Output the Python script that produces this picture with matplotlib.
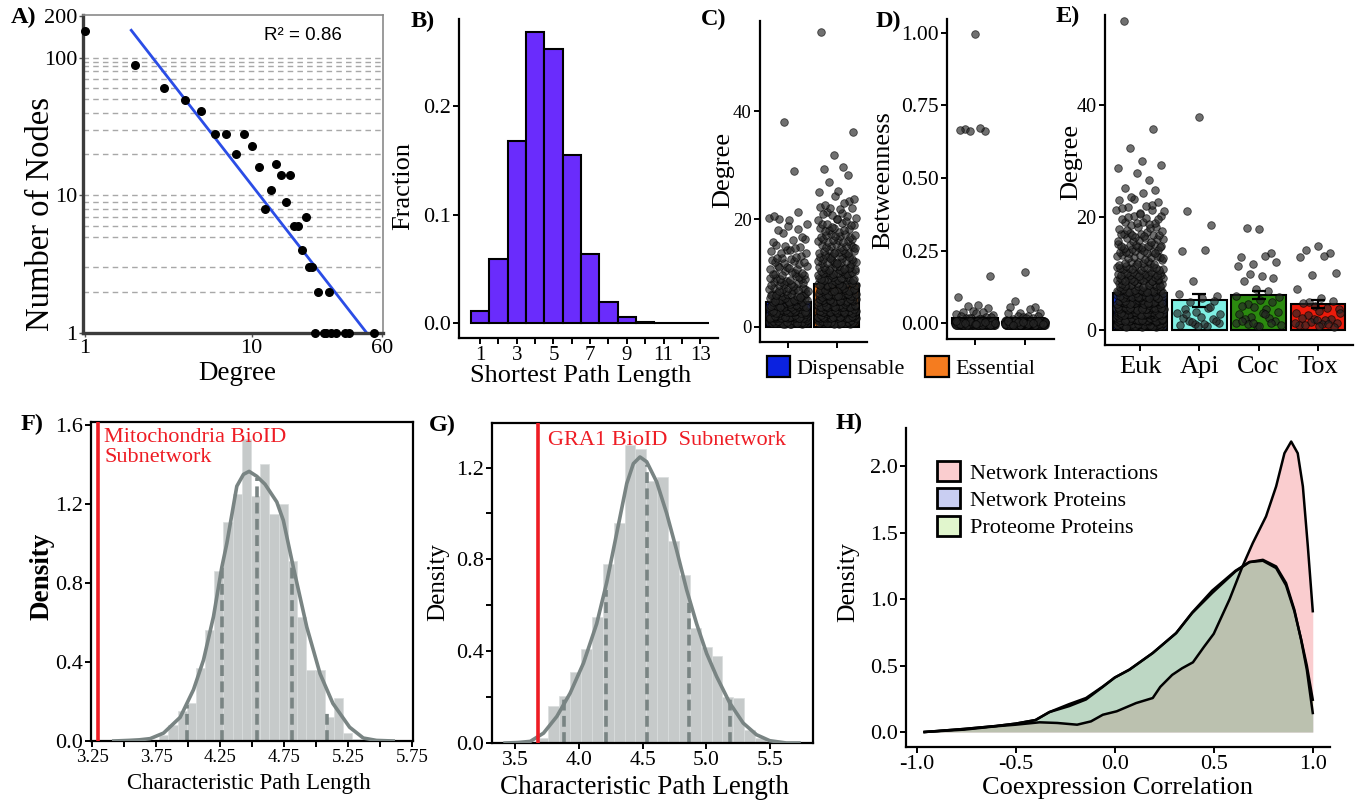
import numpy as np
import matplotlib
matplotlib.use("Agg")
import matplotlib.pyplot as plt
from matplotlib.patches import Patch

plt.rcParams['font.family'] = ['Liberation Serif', 'DejaVu Serif']
plt.rcParams['axes.unicode_minus'] = False

W, H = 1358, 805

# ---------------- data ----------------
# A) degree distribution
a_degree = [1, 2, 3, 4, 5, 6, 7, 8, 9, 10, 11, 12, 13, 14, 15, 16, 17, 18, 19, 20,
            21, 22, 23, 25, 29, 24, 27, 28, 30, 32, 36, 38, 54]
a_nodes = [157, 88, 60, 49, 41, 28, 28, 20, 28, 23, 16, 8, 11, 17, 14, 9, 14, 6, 6, 4,
           7, 3, 3, 2, 2, 1, 1, 1, 1, 1, 1, 1, 1]
a_fit_slope = -1.56
a_fit_icpt = 2.635
a_fit_span = [1.9, 49]
a_r2 = 0.86
a_grid = [2, 3, 5, 6, 7, 8, 9, 10, 20, 30, 40, 50, 60, 70, 80, 87, 93, 100]

# B) shortest path length
b_len = [1, 2, 3, 4, 5, 6, 7, 8, 9, 10, 11, 12, 13]
b_frac = [0.0116, 0.0595, 0.1674, 0.268, 0.252, 0.1545, 0.0639, 0.0196, 0.0061,
          0.0015, 0.0004, 0.0002, 0.0002]

# C) degree, dispensable vs essential
c_groups = ['Dispensable', 'Essential']
c_mean = [4.64, 7.92]
disp_deg = [1, 2, 3, 4, 5, 6, 7, 8, 9, 10, 11, 12, 13, 14, 15, 16, 17, 18, 19, 20, 21, 29, 38]
disp_cnt = [95, 55, 35, 25, 20, 14, 12, 10, 9, 8, 7, 6, 5, 5, 4, 3, 2, 2, 2, 3, 2, 1, 1]
ess_deg = [1, 2, 3, 4, 5, 6, 7, 8, 9, 10, 11, 12, 13, 14, 15, 16, 17, 18, 19, 20, 21, 22,
           23, 24, 25, 27, 28, 29, 30, 32, 36, 55]
ess_cnt = [60, 45, 38, 32, 28, 24, 20, 18, 16, 15, 13, 12, 11, 10, 9, 8, 8, 7, 6, 5, 5, 4,
           3, 2, 2, 1, 1, 1, 1, 1, 1, 1]

# D) betweenness
d_mean = [0.019, 0.005]
disp_btw = [1.0, 0.667, 0.667, 0.667, 0.667, 0.667, 0.16, 0.085, 0.07, 0.06, 0.05, 0.045,
            0.04, 0.035, 0.03, 0.03, 0.028, 0.025, 0.022, 0.02, 0.02, 0.018, 0.015, 0.015,
            0.012, 0.01, 0.01, 0.01, 0.008, 0.005, 0.005]
disp_btw_zeros = 290
ess_btw = [0.18, 0.075, 0.06, 0.055, 0.045, 0.04, 0.035, 0.03, 0.03, 0.025, 0.022, 0.02,
           0.018, 0.015, 0.012, 0.01, 0.01, 0.008, 0.005]
ess_btw_zeros = 380

# E) degree by lineage
e_groups = ['Euk', 'Api', 'Coc', 'Tox']
e_mean = [6.6, 5.3, 6.2, 4.6]
e_err = [0.3, 1.13, 0.65, 0.7]
euk_deg = [1, 2, 3, 4, 5, 6, 7, 8, 9, 10, 11, 12, 13, 14, 15, 16, 17, 18, 19, 20, 21, 22,
           23, 24, 25, 27, 28, 29, 30, 32, 36, 55]
euk_cnt = [110, 70, 52, 42, 35, 25, 24, 18, 20, 18, 14, 10, 10, 12, 12, 8, 10, 6, 6, 6, 5, 4,
           3, 2, 2, 1, 1, 2, 1, 1, 1, 1]
api_deg = [38, 21, 19, 14, 14, 9, 6, 6, 6, 5, 5, 4, 4, 3, 3, 3, 2, 2, 2, 2, 1, 1, 1, 1, 1,
           1, 2, 3, 4, 1]
coc_deg = [18, 18, 14, 13, 13, 12, 12, 11, 10, 10, 9, 9, 7, 7, 6, 6, 5, 5, 5, 4, 4, 4, 3, 3,
           3, 2, 2, 2, 2, 1, 1, 1, 1, 1, 1, 2, 3, 1]
tox_deg = [15, 14, 14, 13, 13, 10, 10, 7, 6, 5, 5, 5, 4, 4, 4, 3, 3, 3, 2, 2, 2, 2, 1, 1, 1,
           1, 1, 1, 1, 2, 3, 1, 1]

# F) mitochondria BioID, random subnetworks
f_bin_start = 3.774
f_bin_width = 0.0717
f_density = [0.03, 0.08, 0.15, 0.19, 0.37, 0.56, 0.86, 1.11, 1.25, 1.53, 1.24, 1.40, 1.15,
             1.20, 0.91, 0.63, 0.36, 0.36, 0.12, 0.22, 0.04, 0.01]
f_kde_x = [3.42, 3.535, 3.62, 3.704, 3.808, 3.938, 4.042, 4.12, 4.198, 4.263, 4.302, 4.38,
           4.432, 4.476, 4.536, 4.60, 4.692, 4.743, 4.821, 4.926, 5.03, 5.13, 5.26, 5.367,
           5.47, 5.60]
f_kde_y = [0.0, 0.003, 0.006, 0.012, 0.04, 0.12, 0.26, 0.41, 0.63, 0.88, 1.0, 1.29,
           1.35, 1.365, 1.34, 1.30, 1.21, 1.117, 0.88, 0.577, 0.34, 0.19, 0.07, 0.015,
           0.003, 0.0]
f_sd_x = [3.995, 4.268, 4.538, 4.813, 5.086]
f_sd_h = [0.18, 0.88, 1.33, 0.90, 0.155]
f_observed = 3.30

# G) GRA1 BioID, random subnetworks
g_bin_start = 3.675
g_bin_width = 0.0855
g_density = [0.022, 0.162, 0.206, 0.31, 0.41, 0.55, 0.78, 0.96, 1.30, 1.28, 1.14, 1.16,
             0.88, 0.73, 0.50, 0.42, 0.38, 0.20, 0.196, 0.055, 0.022]
g_kde_x = [3.42, 3.52, 3.618, 3.722, 3.827, 3.931, 4.036, 4.14, 4.219, 4.297, 4.376, 4.428,
           4.48, 4.533, 4.611, 4.69, 4.768, 4.847, 4.925, 5.004, 5.082, 5.186, 5.291, 5.396,
           5.5, 5.631, 5.73]
g_kde_y = [0.0, 0.002, 0.007, 0.043, 0.116, 0.217, 0.348, 0.52, 0.70, 0.913, 1.13, 1.217,
           1.246, 1.225, 1.138, 1.0, 0.84, 0.667, 0.52, 0.39, 0.29, 0.174, 0.087, 0.036,
           0.01, 0.0, 0.0]
g_sd_x = [3.884, 4.211, 4.538, 4.862, 5.189]
g_sd_h = [0.19, 0.667, 1.21, 0.61, 0.19]
g_observed = 3.675

# H) coexpression correlation densities
h_int_x = [-0.96, -0.76, -0.6, -0.5, -0.38, -0.29, -0.19, -0.12, -0.06, 0.01, 0.108, 0.192,
           0.23, 0.29, 0.34, 0.395, 0.45, 0.5, 0.58, 0.645, 0.697, 0.764, 0.815, 0.857,
           0.891, 0.924, 0.95, 0.975, 1.0]
h_int_y = [0.0, 0.018, 0.043, 0.055, 0.073, 0.068, 0.055, 0.08, 0.13, 0.156, 0.218, 0.256,
           0.34, 0.43, 0.48, 0.525, 0.64, 0.74, 1.0, 1.247, 1.423, 1.624, 1.85, 2.1,
           2.188, 2.1, 1.85, 1.40, 0.91]
h_prot_x = [-0.96, -0.76, -0.6, -0.5, -0.4, -0.33, -0.23, -0.145, -0.06, 0.0, 0.074, 0.192,
            0.31, 0.391, 0.492, 0.61, 0.68, 0.748, 0.815, 0.865, 0.907, 0.941, 0.97, 1.0]
h_prot_y = [0.0, 0.023, 0.045, 0.063, 0.09, 0.15, 0.21, 0.256, 0.343, 0.41, 0.469, 0.595,
            0.745, 0.896, 1.047, 1.21, 1.28, 1.297, 1.247, 1.122, 0.921, 0.695, 0.469, 0.143]
h_prote_y = [0.0, 0.023, 0.045, 0.063, 0.09, 0.15, 0.195, 0.245, 0.34, 0.41, 0.47, 0.595,
             0.745, 0.9, 1.065, 1.215, 1.28, 1.29, 1.235, 1.105, 0.91, 0.70, 0.50, 0.243]
h_labels = ['Network Interactions', 'Network Proteins', 'Proteome Proteins']

# ---------------- helpers ----------------
fig = plt.figure(figsize=(W / 100, H / 100), dpi=100)


def px_axes(left, top, right, bottom):
    return fig.add_axes([left / W, 1 - bottom / H, (right - left) / W, (bottom - top) / H])


def classic(ax, lsize=16):
    for s in ['top', 'right']:
        ax.spines[s].set_visible(False)
    for s in ['left', 'bottom']:
        ax.spines[s].set_linewidth(1.6)
    ax.tick_params(direction='out', length=4, width=1.4, labelsize=lsize, pad=2)


def boxed(ax, lsize=16):
    for s in ax.spines.values():
        s.set_linewidth(1.6)
    ax.tick_params(direction='out', length=4, width=1.4, labelsize=lsize, pad=2)


def ylab(ax, text, x, y, size, **kw):
    ax.set_ylabel(text, fontsize=size, **kw)
    ax.yaxis.set_label_coords(x / W, 1 - y / H, transform=fig.transFigure)
    ax.yaxis.label.set_va('center')


def xlab(ax, text, x, y, size, **kw):
    ax.set_xlabel(text, fontsize=size, **kw)
    ax.xaxis.set_label_coords(x / W, 1 - y / H, transform=fig.transFigure)
    ax.xaxis.label.set_va('center')


def panel(text, x, y):
    fig.text(x / W, 1 - y / H, text, fontsize=17.5, fontweight='bold', ha='left', va='center')


def halton(n, base):
    # deterministic, evenly spread offsets in [-0.5, 0.5)
    out = np.zeros(n)
    for k in range(n):
        f, r, i = 1.0, 0.0, k + 1
        while i > 0:
            f /= base
            r += f * (i % base)
            i //= base
        out[k] = r
    return out - 0.5


def dots(ax, center, values, yjit=0.8, width=0.8):
    values = np.asarray(values, dtype=float)
    jx, jy = halton(len(values), 2), halton(len(values), 3)
    ax.scatter(center + width * jx, values + yjit * jy, s=30, c='#262626', alpha=0.66,
               edgecolors='black', linewidths=0.6, zorder=3, clip_on=False)


# ---------------- A ----------------
axA = px_axes(83, 15, 383, 333)
axA.set_xscale('log')
axA.set_yscale('log')
axA.set_xlim(0.977, 61.1)
axA.set_ylim(1, 204.7)
for g in a_grid:
    axA.axhline(g, color='#a8a8a8', lw=1.0, ls=(0, (4, 3)), zorder=0)
axA.scatter(a_degree, a_nodes, s=30, color='black', zorder=3, clip_on=False)
fx = np.array(a_fit_span)
axA.plot(fx, 10 ** (a_fit_icpt + a_fit_slope * np.log10(fx)), color='#2b4de6', lw=2, zorder=2)
axA.text(0.732, 0.937, 'R\u00b2 = %.2f' % a_r2, transform=axA.transAxes, ha='center',
         va='center', fontsize=13.5, family='Liberation Sans')
axA.set_xticks([1, 10, 60])
axA.set_xticklabels(['1', '10', '60'])
axA.set_yticks([1, 10, 100, 200])
axA.set_yticklabels(['1', '10', '100', '200'])
axA.minorticks_off()
for s in ['top', 'right']:
    axA.spines[s].set_color('#8a8a8a')
    axA.spines[s].set_linewidth(1.2)
for s in ['left', 'bottom']:
    axA.spines[s].set_color('#3c3c3c')
    axA.spines[s].set_linewidth(2.4)
axA.tick_params(direction='out', length=3, width=1, colors='#555555', labelcolor='black',
                labelsize=16, pad=1)
ylab(axA, 'Number of Nodes', 41, 214, 23.5)
xlab(axA, 'Degree', 237, 373, 19.5)
panel('A)', 11, 17)

# ---------------- B ----------------
axB = px_axes(459, 19, 718, 338)
classic(axB)
axB.bar(b_len, b_frac, width=1.0, color='#6a2cfc', edgecolor='black', linewidth=1.5)
axB.set_xlim(-0.15, 13.97)
axB.set_ylim(-0.0135, 0.280)
axB.set_xticks([1, 3, 5, 7, 9, 11, 13])
axB.set_xticks([2, 4, 6, 8, 10, 12], minor=True)
axB.tick_params(which='minor', direction='out', length=4, width=1.4)
axB.tick_params(axis='x', labelsize=15)
axB.set_yticks([0.0, 0.1, 0.2])
axB.set_yticklabels(['0.0', '0.1', '0.2'])
ylab(axB, 'Fraction', 403, 186, 19)
xlab(axB, 'Shortest Path Length', 581, 376, 19)
panel('B)', 411, 21)

# ---------------- C ----------------
c_colors = ['#0b22e0', '#f57c1f']
axC = px_axes(760, 21, 867, 342)
classic(axC, 13.5)
axC.bar([1, 2], c_mean, width=0.93, color=c_colors, edgecolor='black', linewidth=1.5, zorder=2)
dots(axC, 1, np.repeat(disp_deg, disp_cnt))
dots(axC, 2, np.repeat(ess_deg, ess_cnt))
axC.set_xlim(0.415, 2.62)
axC.set_ylim(-2.8, 56.8)
axC.set_xticks([1, 2])
axC.set_xticklabels([])
axC.set_yticks([0, 20, 40])
ylab(axC, 'Degree', 723, 170, 19)
panel('C)', 701, 19)

# ---------------- D ----------------
axD = px_axes(947, 19, 1054, 339)
classic(axD, 15.5)
axD.bar([1, 2], d_mean, width=0.91, color=c_colors, edgecolor='black', linewidth=1.5, zorder=2)
dots(axD, 1, list(disp_btw) + [0.0] * disp_btw_zeros, yjit=0.016)
dots(axD, 2, list(ess_btw) + [0.0] * ess_btw_zeros, yjit=0.016)
axD.set_xlim(0.437, 2.58)
axD.set_ylim(-0.055, 1.048)
axD.set_xticks([1, 2])
axD.set_xticklabels([])
axD.set_yticks([0, 0.25, 0.5, 0.75, 1.0])
axD.set_yticklabels(['0.00', '0.25', '0.50', '0.75', '1.00'])
ylab(axD, 'Betweenness', 883, 180, 19)
panel('D)', 876, 21)

fig.legend([Patch(facecolor=c, edgecolor='black', linewidth=1.6) for c in c_colors], c_groups,
           loc='center', bbox_to_anchor=(901 / W, 1 - 367.5 / H), ncol=2, frameon=False,
           fontsize=16, handlelength=1.05, handleheight=1.05, handletextpad=0.3,
           columnspacing=0.9)

# ---------------- E ----------------
e_colors = ['#1132c9', '#7ff0e4', '#2b8a0f', '#ec1b0b']
axE = px_axes(1105, 15, 1353, 345)
classic(axE, 14.5)
xs = [1, 2, 3, 4]
axE.bar(xs, e_mean, width=0.92, color=e_colors, edgecolor='black', linewidth=1.5, zorder=2)
# Euk error bar sits under its dense cloud, the small groups show theirs on top
axE.errorbar(xs[:1], e_mean[:1], yerr=e_err[:1], fmt='none', ecolor='black', elinewidth=1.6,
             capsize=5, capthick=1.6, zorder=2.5)
axE.errorbar(xs[1:], e_mean[1:], yerr=e_err[1:], fmt='none', ecolor='black', elinewidth=1.6,
             capsize=5, capthick=1.6, zorder=4)
dots(axE, 1, np.repeat(euk_deg, euk_cnt))
dots(axE, 2, api_deg)
dots(axE, 3, coc_deg)
dots(axE, 4, tox_deg)
axE.set_xlim(0.41, 4.59)
axE.set_ylim(-2.67, 56)
axE.set_xticks(xs)
axE.set_xticklabels(e_groups, fontsize=19)
axE.tick_params(axis='x', pad=4)
axE.set_yticks([0, 20, 40])
ylab(axE, 'Degree', 1071, 162, 19)
panel('E)', 1056, 16)

# ---------------- F ----------------
hist_grey = '#c6caca'
kde_grey = '#798483'
red = '#ee1c24'
dash = (0, (3.0, 1.5))
axF = px_axes(91, 422, 413, 741)
boxed(axF)
f_edges = f_bin_start + f_bin_width * np.arange(len(f_density))
axF.bar(f_edges, f_density, width=f_bin_width, align='edge', color=hist_grey,
        edgecolor='#dadddd', linewidth=0.5, zorder=1)
axF.vlines(f_sd_x, 0, f_sd_h, colors=kde_grey, linestyles=dash, linewidth=2.6, zorder=2)
axF.plot(f_kde_x, f_kde_y, color=kde_grey, lw=2.6, zorder=3)
axF.axvline(f_observed, color=red, lw=2.6, zorder=4)
axF.text(3.345, 1.585, 'Mitochondria BioID\nSubnetwork', color=red, fontsize=16,
         va='top', ha='left', linespacing=1.05)
axF.set_xlim(3.242, 5.755)
axF.set_ylim(0, 1.615)
f_ticks = [3.25, 3.5, 3.75, 4.0, 4.25, 4.5, 4.75, 5.0, 5.25, 5.5, 5.75]
f_ticklabels = ['3.25', '', '3.75', '', '4.25', '', '4.75', '', '5.25', '', '5.75']
axF.set_xticks(f_ticks)
axF.set_xticklabels(f_ticklabels)
axF.tick_params(axis='x', labelsize=13.5)
axF.set_yticks([0, 0.4, 0.8, 1.2, 1.6])
axF.set_yticklabels(['0.0', '0.4', '0.8', '1.2', '1.6'])
ylab(axF, 'Density', 42, 576, 19.5, fontweight='bold')
xlab(axF, 'Characteristic Path Length', 249, 783, 16.5)
panel('F)', 21, 424)

# ---------------- G ----------------
axG = px_axes(492, 423, 813, 743)
boxed(axG)
g_edges = g_bin_start + g_bin_width * np.arange(len(g_density))
axG.bar(g_edges, g_density, width=g_bin_width, align='edge', color=hist_grey,
        edgecolor='#dadddd', linewidth=0.5, zorder=1)
axG.vlines(g_sd_x, 0, g_sd_h, colors=kde_grey, linestyles=dash, linewidth=2.6, zorder=2)
axG.plot(g_kde_x, g_kde_y, color=kde_grey, lw=2.6, zorder=3)
axG.axvline(g_observed, color=red, lw=2.6, zorder=4)
axG.text(3.76, 1.319, 'GRA1 BioID  Subnetwork', color=red, fontsize=16, va='center', ha='left')
axG.set_xlim(3.317, 5.84)
axG.set_ylim(0, 1.394)
axG.set_xticks([3.5, 4.0, 4.5, 5.0, 5.5])
axG.set_xticklabels(['3.5', '4.0', '4.5', '5.0', '5.5'])
axG.tick_params(axis='x', labelsize=15.5)
axG.set_yticks([0, 0.4, 0.8, 1.2])
axG.set_yticklabels(['0.0', '0.4', '0.8', '1.2'])
axG.set_yticks([0.2, 0.6, 1.0], minor=True)
axG.tick_params(which='minor', direction='out', length=4, width=1.4)
ylab(axG, 'Density', 438, 582, 18)
xlab(axG, 'Characteristic Path Length', 645, 787, 19.5)
panel('G)', 429, 425)

# ---------------- H ----------------
h_colors = ['#f17076', '#6573da', '#a9e870']
h_alpha = 0.35
axH = px_axes(906, 428, 1330, 747)
classic(axH)
for hx, hy, c in [(h_int_x, h_int_y, h_colors[0]), (h_prot_x, h_prot_y, h_colors[1]),
                  (h_prot_x, h_prote_y, h_colors[2])]:
    axH.fill_between(hx, 0, hy, color=c, alpha=h_alpha, linewidth=0, zorder=1)
for hx, hy in [(h_int_x, h_int_y), (h_prot_x, h_prot_y), (h_prot_x, h_prote_y)]:
    axH.plot(hx, hy, color='black', lw=1.8, zorder=2)
axH.set_xlim(-1.054, 1.087)
axH.set_ylim(-0.113, 2.29)
axH.set_xticks([-1.0, -0.5, 0.0, 0.5, 1.0])
axH.set_xticklabels(['-1.0', '-0.5', '0.0', '0.5', '1.0'])
axH.set_yticks([0.0, 0.5, 1.0, 1.5, 2.0])
axH.set_yticklabels(['0.0', '0.5', '1.0', '1.5', '2.0'])
h_handles = [Patch(facecolor=matplotlib.colors.to_rgba(c, h_alpha), edgecolor='black',
                   linewidth=2) for c in h_colors]
axH.legend(h_handles, h_labels, loc='upper left', bbox_to_anchor=(937 / W, 1 - 461 / H),
           bbox_transform=fig.transFigure, frameon=False, fontsize=16, borderaxespad=0,
           borderpad=0, handlelength=1.05, handleheight=1.0, handletextpad=0.45,
           labelspacing=0.22)
ylab(axH, 'Density', 848, 582, 18.5)
xlab(axH, 'Coexpression Correlation', 1118, 788, 19)
panel('H)', 836, 423)

fig.savefig('out.png', dpi=100)
